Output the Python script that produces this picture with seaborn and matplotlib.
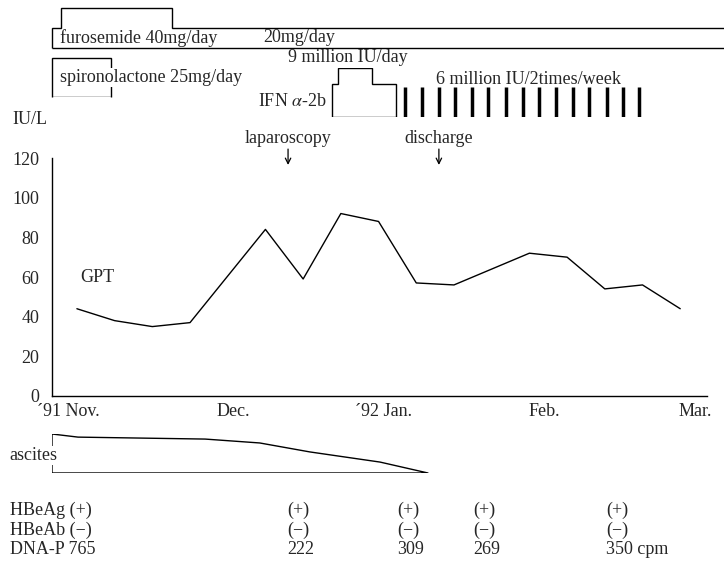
import numpy as np
import pandas as pd
import seaborn as sns
import matplotlib.pyplot as plt

# time axis: weeks from the first GPT measurement
gpt_week = [0, 1, 2, 3, 5, 6, 7, 8, 9, 10, 12, 13, 14, 15, 16]
gpt_value = [44, 38, 35, 37, 84, 59, 92, 88, 57, 56, 72, 70, 54, 56, 44]

month_labels = ['´91 Nov.', 'Dec.', '´92 Jan.', 'Feb.', 'Mar.']
month_week = [-0.24, 4.14, 8.14, 12.39, 16.39]

# drugs (edges in weeks, dose per segment)
furo_edges = [-0.66, -0.42, 2.52, 17.5]
furo_dose = [20, 40, 20]
spiro_edges = [-0.66, 0.90]
spiro_dose = [25]
ifn_edges = [6.76, 6.92, 7.82, 8.46]
ifn_dose = [6, 9, 6]
ifn_shots = [8.70, 9.15, 9.60, 10.03, 10.48, 10.90, 11.38, 11.83,
             12.26, 12.71, 13.16, 13.58, 14.06, 14.48, 14.91]

# ascites, relative amount
asc_week = [-0.66, 0.03, 3.40, 4.85, 6.18, 8.04, 9.31]
asc_level = [1.0, 0.92, 0.87, 0.77, 0.54, 0.28, 0.0]

event_labels = ['laparoscopy', 'discharge']
event_week = [5.6, 9.6]

# HBe markers
test_week = [-0.45, 5.57, 8.49, 10.5, 14.03]
row_names = ['HBeAg', 'HBeAb', 'DNA-P']
hbeag = ['(+)', '(+)', '(+)', '(+)', '(+)']
hbeab = ['(−)', '(−)', '(−)', '(−)', '(−)']
dnap = ['765', '222', '309', '269', '350 cpm']

sns.set_style('white')
plt.rcParams['font.family'] = ['Liberation Serif', 'DejaVu Serif']
plt.rcParams['mathtext.fontset'] = 'stix'
plt.rcParams['font.size'] = 13

W, H = 724, 565
def box(l, t, r, b):
    return [l / W, 1 - b / H, (r - l) / W, (b - t) / H]

fig = plt.figure(figsize=(7.24, 5.65), dpi=100)
ax = fig.add_axes(box(52, 158, 707, 396))

sns.lineplot(x=gpt_week, y=gpt_value, ax=ax, color='black', lw=1)
ax.set_xlim(-0.66, 16.71)
ax.set_ylim(0, 120)
ax.set_yticks(range(0, 121, 20))
ax.set_xticks(month_week, month_labels)
ax.tick_params(length=0, labelsize=13)
ax.tick_params(axis='y', pad=9)
ax.tick_params(axis='x', pad=5)
sns.despine(ax=ax)
for s in ['left', 'bottom']:
    ax.spines[s].set_color('black')
    ax.spines[s].set_linewidth(1)
ax.text(0.55, 60, 'GPT', ha='center', va='center')
for lab, wk in zip(event_labels, event_week):
    ax.text(wk, 130, lab, ha='center', va='center', clip_on=False)
    ax.annotate('', xy=(wk, 116.5), xytext=(wk, 124.5), annotation_clip=False,
                arrowprops=dict(arrowstyle='->,head_length=0.3,head_width=0.15',
                                lw=0.9, color='black', shrinkA=0, shrinkB=0))
fig.text(12 / W, 1 - 120 / H, 'IU/L', va='center', ha='left')

# furosemide
ax_f = fig.add_axes(box(52, 8, 707, 48), sharex=ax)
ax_f.stairs(furo_dose, furo_edges, baseline=0, color='black', lw=1, clip_on=False)
ax_f.hlines(0, furo_edges[0], furo_edges[-1], color='black', lw=1, clip_on=False)
ax_f.set_ylim(0, 40)
ax_f.text(-0.45, 10, 'furosemide 40mg/day', va='center')
ax_f.text(4.93, 10, '20mg/day', va='center')
ax_f.axis('off')

# spironolactone
ax_s = fig.add_axes(box(52, 58, 707, 97), sharex=ax)
ax_s.stairs(spiro_dose, spiro_edges, baseline=0, color='black', lw=1, clip_on=False)
ax_s.hlines(0, spiro_edges[0], spiro_edges[-1], color='black', lw=1)
ax_s.set_ylim(0, 25)
ax_s.text(-0.45, 12.5, 'spironolactone 25mg/day', va='center',
          bbox=dict(facecolor='white', edgecolor='none', pad=0.5))
ax_s.axis('off')

# interferon
ax_i = fig.add_axes(box(52, 68, 707, 117), sharex=ax)
ax_i.stairs(ifn_dose, ifn_edges, baseline=0, color='black', lw=1)
ax_i.hlines(0, ifn_edges[0], ifn_edges[-1], color='black', lw=1)
ax_i.vlines(ifn_shots, 0, ifn_dose[-1] - 0.5, color='black', lw=2.5)
ax_i.set_ylim(0, 9)
ax_i.text(5.6, 11.0, '9 million IU/day', va='center', ha='left')
ax_i.text(6.62, 2.9, r'IFN $\alpha$-2b', va='center', ha='right')
ax_i.text(9.52, 6.8, '6 million IU/2times/week', va='center', ha='left')
ax_i.axis('off')

# ascites
ax_a = fig.add_axes(box(52, 434, 707, 473), sharex=ax)
ax_a.fill_between(asc_week, 0, asc_level, facecolor='none', edgecolor='black', lw=1)
ax_a.set_ylim(0, 1)
ax_a.text(-1.78, 0.45, 'ascites', va='center', ha='left',
          bbox=dict(facecolor='white', edgecolor='none', pad=1))
ax_a.axis('off')

# marker table
ax_t = fig.add_axes(box(52, 500, 707, 560), sharex=ax)
ax_t.set_ylim(3, 0)
rows = [hbeag, hbeab, dnap]
for i, (name, vals) in enumerate(zip(row_names, rows)):
    y = i + 0.5
    ax_t.text(-1.78, y, name + ' ' + vals[0], va='center', ha='left')
    for wk, v in zip(test_week[1:], vals[1:]):
        ax_t.text(wk, y, v, va='center', ha='left')
ax_t.axis('off')

fig.savefig('out.png', dpi=100)
